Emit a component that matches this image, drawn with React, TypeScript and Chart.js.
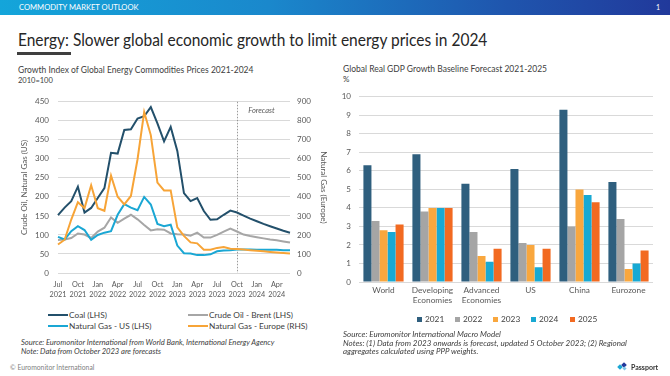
import React, { useEffect, useRef } from 'react';
import { Chart, registerables } from 'chart.js';

Chart.register(...registerables);

const FONT = 'Lato, "Open Sans", "DejaVu Sans", sans-serif';

// ---------- Left chart data (monthly, Jul 2021 - Jun 2024) ----------
const months = [
  'Jul 2021', 'Aug 2021', 'Sep 2021', 'Oct 2021', 'Nov 2021', 'Dec 2021',
  'Jan 2022', 'Feb 2022', 'Mar 2022', 'Apr 2022', 'May 2022', 'Jun 2022',
  'Jul 2022', 'Aug 2022', 'Sep 2022', 'Oct 2022', 'Nov 2022', 'Dec 2022',
  'Jan 2023', 'Feb 2023', 'Mar 2023', 'Apr 2023', 'May 2023', 'Jun 2023',
  'Jul 2023', 'Aug 2023', 'Sep 2023', 'Oct 2023', 'Nov 2023', 'Dec 2023',
  'Jan 2024', 'Feb 2024', 'Mar 2024', 'Apr 2024', 'May 2024', 'Jun 2024',
];
const coal = [
  152, 172, 189, 227, 159, 171, 197, 223, 316, 314, 376, 378,
  406, 412, 436, 393, 346, 384, 321, 210, 189, 197, 163, 140,
  141, 153, 164, 159, 151, 143, 136, 129, 123, 117, 111, 106,
];
const brent = [
  87, 88, 92, 104, 101, 92, 109, 119, 146, 132, 143, 153,
  141, 126, 112, 115, 114, 104, 102, 101, 98, 106, 93, 93,
  100, 109, 117, 109, 101, 97, 94, 91, 88, 86, 83, 80,
];
const gasUS = [
  95, 88, 110, 123, 113, 87, 100, 106, 110, 153, 181, 172,
  165, 200, 180, 129, 123, 127, 72, 52, 51, 47, 47, 49,
  57, 59, 60, 62, 62, 62, 61, 61, 61, 61, 60, 60,
];
const gasEurope = [
  150, 175, 281, 372, 341, 461, 341, 327, 512, 401, 361, 405,
  598, 846, 725, 475, 434, 434, 240, 195, 161, 156, 122, 122,
  132, 136, 128, 126, 123, 120, 117, 114, 111, 108, 105, 102,
];
const forecastStart = 'Oct 2023';
const lineSeriesNames = ['Coal (LHS)', 'Crude Oil - Brent (LHS)', 'Natural Gas - US (LHS)', 'Natural Gas - Europe (RHS)'];
const lineColors = ['#23506B', '#A6A6A6', '#1AA7D4', '#F7A437'];

// ---------- Right chart data ----------
const regions = [['World'], ['Developing', 'Economies'], ['Advanced', 'Economies'], ['US'], ['China'], ['Eurozone']];
const years = ['2021', '2022', '2023', '2024', '2025'];
const gdp2021 = [6.3, 6.9, 5.3, 6.1, 9.3, 5.4];
const gdp2022 = [3.3, 3.8, 2.7, 2.1, 3.0, 3.4];
const gdp2023 = [2.8, 4.0, 1.4, 2.0, 5.0, 0.7];
const gdp2024 = [2.7, 4.0, 1.1, 0.8, 4.7, 1.0];
const gdp2025 = [3.1, 4.0, 1.8, 1.8, 4.3, 1.7];
const barColors = ['#2F5F7E', '#A5A5A5', '#F9A73E', '#18A9D3', '#F26A21'];

const TICK = '#595959';
const GRID = '#D9D9D9';

const forecastPlugin = {
  id: 'forecastLine',
  beforeDatasetsDraw(chart: any) {
    const idx = months.indexOf(forecastStart);
    if (idx < 0) return;
    const x = Math.round(chart.scales.x.getPixelForValue(idx)) + 0.5;
    const { top, bottom } = chart.chartArea;
    const ctx = chart.ctx;
    ctx.save();
    ctx.strokeStyle = '#808080';
    ctx.lineWidth = 0.8;
    ctx.setLineDash([1.5, 1.5]);
    ctx.beginPath();
    ctx.moveTo(x, top);
    ctx.lineTo(x, bottom);
    ctx.stroke();
    ctx.setLineDash([]);
    ctx.fillStyle = TICK;
    ctx.font = `italic 7.5px ${FONT}`;
    ctx.textAlign = 'center';
    ctx.textBaseline = 'middle';
    ctx.fillText('Forecast', x + 24, top + 9);
    ctx.restore();
  },
};

function LineChart() {
  const ref = useRef<HTMLCanvasElement>(null);
  useEffect(() => {
    const series = [coal, brent, gasUS, gasEurope];
    const chart = new Chart(ref.current!, {
      type: 'line',
      data: {
        labels: months,
        datasets: series.map((d, i) => ({
          label: lineSeriesNames[i],
          data: d,
          borderColor: lineColors[i],
          backgroundColor: lineColors[i],
          borderWidth: 2,
          pointRadius: 0,
          tension: 0,
          yAxisID: i === 3 ? 'y1' : 'y',
          order: [1, 3, 2, 0][i],
        })),
      },
      options: {
        responsive: false,
        animation: false,
        layout: { padding: { top: 10, left: 0, right: 0, bottom: 0 } },
        plugins: { legend: { display: false }, tooltip: { enabled: false } },
        scales: {
          x: {
            grid: { display: false, drawTicks: false },
            border: { display: false },
            ticks: {
              autoSkip: false,
              maxRotation: 0,
              minRotation: 0,
              padding: 6,
              color: TICK,
              font: { size: 7.3, family: FONT, lineHeight: 1.45 },
              callback: (_v: any, i: number) => (i % 3 === 0 ? months[i].split(' ') : null),
            },
            afterFit: (s: any) => { s.height = 35; },
          },
          y: {
            position: 'left',
            min: 0,
            max: 450,
            grid: { color: GRID, drawTicks: false, lineWidth: 1 },
            border: { display: false },
            ticks: { stepSize: 50, padding: 9, color: TICK, font: { size: 8, family: FONT } },
            title: { display: true, text: 'Crude Oil, Natural Gas (US)', color: TICK, font: { size: 8, family: FONT }, padding: { top: 6, bottom: 0 } },
            afterFit: (s: any) => { s.width = 44; },
          },
          y1: {
            position: 'right',
            min: 0,
            max: 900,
            grid: { display: false, drawTicks: false },
            border: { display: false },
            ticks: { stepSize: 100, padding: 7, color: TICK, font: { size: 8, family: FONT } },
            title: { display: true, text: 'Natural Gas (Europe)', color: TICK, font: { size: 8, family: FONT }, padding: { top: 2, bottom: 0 } },
            afterFit: (s: any) => { s.width = 40; },
          },
        },
      },
      plugins: [forecastPlugin],
    } as any);
    return () => chart.destroy();
  }, []);
  return <canvas ref={ref} width={316} height={220} style={{ position: 'absolute', left: 14, top: 88, width: 316, height: 220 }} />;
}

function BarChart() {
  const ref = useRef<HTMLCanvasElement>(null);
  useEffect(() => {
    const series = [gdp2021, gdp2022, gdp2023, gdp2024, gdp2025];
    const chart = new Chart(ref.current!, {
      type: 'bar',
      data: {
        labels: regions,
        datasets: series.map((d, i) => ({
          label: years[i],
          data: d,
          backgroundColor: barColors[i],
          borderWidth: 0,
          categoryPercentage: 0.82,
          barPercentage: 1,
        })),
      },
      options: {
        responsive: false,
        animation: false,
        layout: { padding: { top: 9.5, left: 0, right: 12, bottom: 0 } },
        plugins: { legend: { display: false }, tooltip: { enabled: false } },
        scales: {
          x: {
            grid: { display: false, drawTicks: false },
            border: { display: false },
            ticks: { padding: 3, color: TICK, font: { size: 8.3, family: FONT, lineHeight: 1.25 }, maxRotation: 0 },
            afterFit: (s: any) => { s.height = 32; },
          },
          y: {
            min: 0,
            max: 10,
            grid: { color: GRID, drawTicks: false },
            border: { display: false },
            ticks: { stepSize: 1, padding: 8, color: TICK, font: { size: 8, family: FONT } },
            afterFit: (s: any) => { s.width = 29; },
          },
        },
      },
    } as any);
    return () => chart.destroy();
  }, []);
  return <canvas ref={ref} width={335} height={230} style={{ position: 'absolute', left: 330, top: 84, width: 335, height: 230 }} />;
}

function T(props: { x: number; y: number; size: number; color?: string; italic?: boolean; bold?: boolean; children: any; style?: any }) {
  const { x, y, size, color = '#404040', italic, bold, children, style } = props;
  return (
    <div
      style={{
        position: 'absolute',
        left: x,
        top: y - size * 0.6,
        fontSize: size,
        lineHeight: `${size * 1.2}px`,
        color,
        fontStyle: italic ? 'italic' : 'normal',
        fontWeight: bold ? 700 : 400,
        whiteSpace: 'nowrap',
        fontFamily: FONT,
        ...style,
      }}
    >
      {children}
    </div>
  );
}

export default function App() {
  useEffect(() => {
    document.body.style.margin = '0';
  }, []);
  const lineLegendPos = [
    { x: 48, y: 315 },
    { x: 188, y: 315 },
    { x: 48, y: 326 },
    { x: 188, y: 326 },
  ];
  const barLegendX = [417, 455, 493, 531, 570];
  return (
    <div style={{ position: 'fixed', left: 0, top: 0, width: 670, height: 376, background: '#fff', overflow: 'hidden', fontFamily: FONT }}>
      {/* Header band */}
      <div style={{ position: 'absolute', left: 0, top: 0, width: 670, height: 15, background: 'linear-gradient(90deg, #14A5DA 0%, #1A88CC 40%, #1F56AE 75%, #21399B 100%)' }} />
      <T x={19} y={7.5} size={7.6} color="#FFFFFF">COMMODITY MARKET OUTLOOK</T>
      <T x={656} y={7.5} size={7} color="#FFFFFF">1</T>

      {/* Title */}
      <T x={18} y={39} size={17.5} color="#262626" style={{ transform: 'scaleX(0.885)', transformOrigin: 'left center' }}>
        Energy: Slower global economic growth to limit energy prices in 2024
      </T>
      <div style={{ position: 'absolute', left: 17, top: 52, width: 54, height: 3, background: '#3F3F3F' }} />

      {/* Left chart */}
      <T x={18} y={70} size={8.5}>Growth Index of Global Energy Commodities Prices 2021-2024</T>
      <T x={18} y={80} size={7.5}>2010=100</T>
      <LineChart />
      {lineSeriesNames.map((n, i) => (
        <div key={n} style={{ position: 'absolute', left: lineLegendPos[i].x, top: lineLegendPos[i].y - 6, height: 12, display: 'flex', alignItems: 'center' }}>
          <div style={{ width: 20, height: 2.2, background: lineColors[i] }} />
          <span style={{ fontSize: 8.3, color: '#404040', marginLeft: 1, whiteSpace: 'nowrap' }}>{n}</span>
        </div>
      ))}
      <T x={21} y={343} size={7.6} italic>Source: Euromonitor International from World Bank, International Energy Agency</T>
      <T x={21} y={352} size={7.6} italic>Note: Data from October 2023 are forecasts</T>
      <T x={10} y={367} size={6.8} color="#7F7F7F">© Euromonitor International</T>

      {/* Right chart */}
      <T x={343} y={69} size={8.5}>Global Real GDP Growth Baseline Forecast 2021-2025</T>
      <T x={343} y={80} size={8}>%</T>
      <BarChart />
      {years.map((yr, i) => (
        <div key={yr} style={{ position: 'absolute', left: barLegendX[i], top: 313, height: 12, display: 'flex', alignItems: 'center' }}>
          <div style={{ width: 5, height: 5, background: barColors[i] }} />
          <span style={{ fontSize: 8.3, color: '#404040', marginLeft: 3 }}>{yr}</span>
        </div>
      ))}
      <T x={343} y={334.5} size={8} italic>Source: Euromonitor International Macro Model</T>
      <T x={343} y={343.5} size={8} italic>Notes: (1) Data from 2023 onwards is forecast, updated 5 October 2023; (2) Regional</T>
      <T x={343} y={352} size={8} italic>aggregates calculated using PPP weights.</T>

      {/* Passport logo */}
      <div style={{ position: 'absolute', left: 618, top: 362, height: 10, display: 'flex', alignItems: 'center' }}>
        <div style={{ position: 'relative', width: 10, height: 8 }}>
          <div style={{ position: 'absolute', left: 0, top: 2, width: 4, height: 4, background: '#1AA7D4', transform: 'rotate(45deg)' }} />
          <div style={{ position: 'absolute', left: 4, top: 0, width: 4, height: 4, background: '#22389C', transform: 'rotate(45deg)' }} />
          <div style={{ position: 'absolute', left: 5, top: 4, width: 3, height: 3, background: '#7FC8E8', transform: 'rotate(45deg)' }} />
        </div>
        <span style={{ fontSize: 7, fontWeight: 700, color: '#333', marginLeft: 3 }}>Passport</span>
      </div>
    </div>
  );
}
